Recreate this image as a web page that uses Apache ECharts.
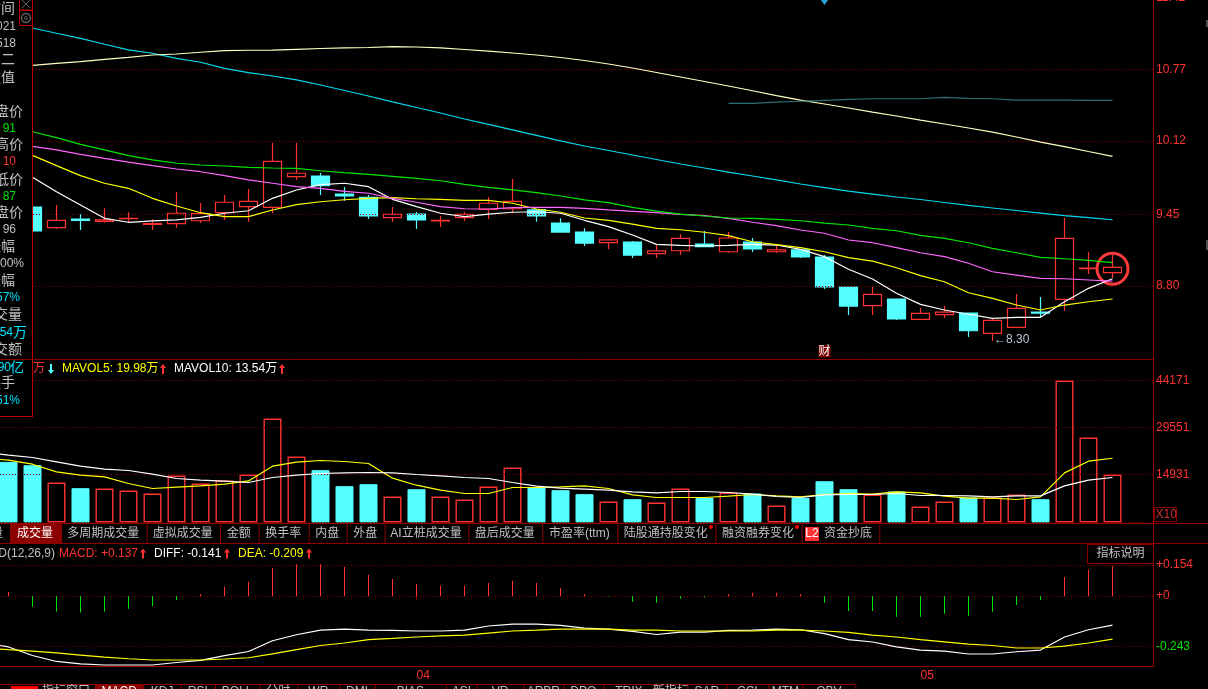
<!DOCTYPE html>
<html>
<head>
<meta charset="utf-8">
<style>html,body{margin:0;padding:0;background:#000;overflow:hidden}#c{width:1208px;height:689px}</style>
<script src="https://cdn.jsdelivr.net/npm/echarts@6/dist/echarts.min.js"></script>
</head>
<body>
<div id="c"></div>
<script>
const categories = ['','','','','','','','','','','','','','','','','','','04','','','','','','','','','','','','','','','','','','','','','05','','','','','','','','',''];

// [open, close, low, high]
const candles = [
[9.70,9.60,9.55,9.75],[9.60,9.52,9.50,9.63],[9.519,9.301,9.301,9.519],[9.331,9.398,9.319,9.537],[9.410,9.398,9.310,9.452],
[9.389,9.401,9.376,9.507],[9.413,9.416,9.376,9.471],[9.360,9.367,9.310,9.407],[9.367,9.462,9.328,9.655],[9.394,9.458,9.373,9.555],
[9.467,9.562,9.401,9.628],[9.522,9.571,9.385,9.683],[9.516,9.935,9.462,10.101],[9.795,9.826,9.765,10.101],[9.801,9.713,9.628,9.828],
[9.637,9.619,9.576,9.701],[9.607,9.437,9.410,9.628],[9.422,9.452,9.382,9.519],[9.455,9.401,9.319,9.473],[9.393,9.398,9.337,9.437],
[9.422,9.452,9.391,9.473],[9.498,9.553,9.410,9.610],[9.503,9.571,9.462,9.774],[9.492,9.437,9.385,9.501],[9.373,9.291,9.291,9.416],
[9.291,9.191,9.164,9.325],[9.194,9.219,9.137,9.228],[9.200,9.082,9.055,9.210],[9.094,9.119,9.055,9.173],[9.121,9.234,9.082,9.273],
[9.182,9.158,9.155,9.300],[9.112,9.237,9.100,9.291],[9.200,9.137,9.109,9.237],[9.112,9.128,9.100,9.173],[9.128,9.064,9.055,9.137],
[9.064,8.791,8.773,9.082],[8.791,8.618,8.536,8.791],[8.621,8.724,8.536,8.791],[8.682,8.500,8.491,8.682],[8.497,8.552,8.491,8.600],
[8.539,8.563,8.509,8.618],[8.554,8.393,8.336,8.554],[8.370,8.488,8.30,8.506],[8.424,8.597,8.420,8.727],[8.563,8.554,8.515,8.700],
[8.679,9.234,8.572,9.419],[8.958,8.964,8.909,9.109],[8.921,8.970,8.873,9.109],'-'
];
const ma5 = [null,null,9.789,9.658,9.537,9.416,9.380,9.392,9.401,9.425,9.462,9.485,9.598,9.674,9.722,9.735,9.704,9.589,9.522,9.462,9.431,9.455,9.471,9.476,9.462,9.398,9.340,9.264,9.179,9.170,9.164,9.170,9.179,9.173,9.134,9.067,8.952,8.864,8.734,8.633,8.582,8.543,8.506,8.515,8.515,8.657,8.779,8.866];
const ma10 = [null,null,9.989,9.895,9.804,9.735,9.689,9.598,9.528,9.467,9.431,9.431,9.492,9.540,9.567,9.585,9.598,9.604,9.594,9.589,9.580,9.580,9.553,9.501,9.471,9.419,9.398,9.364,9.325,9.312,9.289,9.258,9.203,9.176,9.149,9.112,9.058,9.027,8.966,8.894,8.839,8.739,8.688,8.627,8.582,8.627,8.657,8.682];
const ma20 = [null,null,10.071,10.038,9.998,9.962,9.928,9.895,9.865,9.840,9.804,9.765,9.735,9.704,9.689,9.662,9.644,9.598,9.562,9.522,9.503,9.501,9.513,9.516,9.516,9.507,9.492,9.480,9.467,9.452,9.440,9.416,9.380,9.349,9.310,9.280,9.219,9.194,9.149,9.103,9.067,9.007,8.930,8.900,8.870,8.866,8.855,8.845];
const ma30 = [null,null,10.204,10.150,10.089,10.038,9.986,9.947,9.917,9.901,9.892,9.880,9.874,9.871,9.849,9.831,9.816,9.798,9.780,9.758,9.725,9.698,9.674,9.649,9.619,9.583,9.558,9.516,9.482,9.455,9.437,9.419,9.416,9.407,9.394,9.373,9.355,9.325,9.303,9.261,9.234,9.194,9.143,9.103,9.061,9.048,9.034,9.012];
const ma60 = [null,null,11.148,11.100,11.054,11.000,10.948,10.918,10.872,10.836,10.781,10.741,10.711,10.675,10.629,10.579,10.529,10.475,10.424,10.374,10.320,10.270,10.220,10.170,10.120,10.074,10.033,9.992,9.951,9.910,9.874,9.837,9.801,9.765,9.728,9.696,9.664,9.637,9.610,9.587,9.560,9.533,9.510,9.487,9.464,9.441,9.423,9.403];
const ma120 = [null,null,10.808,10.826,10.841,10.863,10.881,10.902,10.911,10.927,10.941,10.945,10.947,10.954,10.961,10.966,10.970,10.979,10.975,10.966,10.952,10.938,10.920,10.902,10.879,10.852,10.820,10.784,10.743,10.702,10.661,10.620,10.577,10.533,10.492,10.456,10.420,10.383,10.347,10.310,10.274,10.238,10.201,10.156,10.110,10.069,10.024,9.980];
const ma250 = [null,null,null,null,null,null,null,null,null,null,null,null,null,null,null,null,null,null,null,null,null,null,null,null,null,null,null,null,null,null,null,10.462,10.462,10.474,10.481,10.490,10.499,10.504,10.504,10.504,10.517,10.508,10.504,10.492,10.492,10.492,10.490,10.490];

const volumes = [20000,18850,17824,12442,10670,10576,9954,9021,14620,12131,13065,14931,32350,20530,16268,11291,11913,8088,10358,8088,7154,11198,17108,10887,10047,8803,6532,7248,6221,10576,7652,9332,9021,5288,7652,12847,10358,8710,9643,4977,6532,7777,7777,8710,7248,44171,26440,14931];
const mavol5 = [20000,19380,18135,15740,14713,14184,12131,10576,10980,11385,11913,12940,17513,18757,19286,18975,18353,13780,11602,10047,9021,9021,10887,10887,11074,11385,10576,8585,7777,7777,7777,8181,8710,8274,7963,8710,9021,8803,9518,9207,8181,7559,7559,7154,7963,15429,19068,19980];
const mavol10 = [21870,20934,20219,18850,17513,16580,16175,15024,13687,13158,12847,12442,13998,14713,15242,15429,15553,15429,14931,14496,13998,13687,12442,11291,10670,10358,10047,9518,9207,9643,9643,9332,8803,8088,7777,8585,8710,8710,9021,8399,8399,8274,7963,8274,8274,11385,13158,14000];

const macdBars = [0,.021,-.051,-.074,-.079,-.074,-.061,-.047,-.018,.011,.045,.069,.136,.154,.154,.141,.103,.083,.059,.050,.050,.064,.074,.064,.040,.011,-.003,-.027,-.032,-.013,-.005,.011,.016,.016,.011,-.032,-.071,-.071,-.099,-.099,-.085,-.095,-.075,-.042,-.018,.093,.127,.146];
const diff = [-.225,-.245,-.286,-.315,-.327,-.332,-.332,-.332,-.320,-.310,-.287,-.267,-.215,-.186,-.164,-.159,-.164,-.165,-.168,-.168,-.164,-.144,-.135,-.135,-.141,-.154,-.159,-.170,-.185,-.173,-.173,-.165,-.164,-.159,-.162,-.181,-.210,-.221,-.245,-.260,-.265,-.279,-.279,-.268,-.260,-.197,-.162,-.140];
const dea = [-.25,-.258,-.265,-.274,-.284,-.294,-.302,-.308,-.308,-.308,-.303,-.297,-.278,-.258,-.238,-.226,-.210,-.204,-.197,-.192,-.188,-.178,-.168,-.164,-.159,-.159,-.159,-.164,-.164,-.168,-.168,-.168,-.168,-.164,-.164,-.168,-.175,-.188,-.197,-.210,-.220,-.231,-.238,-.250,-.250,-.241,-.226,-.207];

const priceTicks = [8.80,9.45,10.12,10.77,11.42];
const volumeTicks = [14931,29551,44171];
const macdTicks = [-0.243,0,0.154];

const tabs = ['成交量','多周期成交量','虚拟成交量','金额','换手率','内盘','外盘','AI立桩成交量','盘后成交量','市盈率(ttm)','陆股通持股变化','融资融券变化'];
const tabEdges = [10,61,146.7,220,258.7,308.7,346.7,384.7,468.3,542.3,617.3,715.3,801.7,879.3];
const bottomTabs = ['MACD','KDJ','RSI','BOLL','分时','WR','DMI','BIAS','ASI','VR','ARBR','DPO','TRIX','新指标','SAR','CCI','MTM','OBV'];
const bottomEdges = [95,143.3,180.7,215,259.3,297.3,339.3,374.7,446,476.7,523.3,563.3,603.3,654.3,687.3,726.3,768.3,802.3,855.3];
const GRAY = '#c0c0c0', BLUE = '#00e5ff';
const panelRows = [
 ['时间',15,9,GRAY,14],['2021',16,27,GRAY,12],['1518',16,44,GRAY,12],['周二',15,60,GRAY,14],['数值',15,78,GRAY,14],
 ['开盘价',23,112,GRAY,14],['91',16,129,'#00e600',12],['最高价',23,145,GRAY,14],['10',16,162,'#ff3232',12],['最低价',23,180,GRAY,14],
 ['87',16,197,'#00e600',12],['收盘价',23,213,GRAY,14],['96',16,230,GRAY,12],['涨幅',15,247,GRAY,14],['00%',24,264,GRAY,12],
 ['振幅',15,281,GRAY,14],['2.57%',20,298,BLUE,12],['成交量',22,315,GRAY,14],['54',13,333,BLUE,12],['万',27,333,BLUE,14],['成交额',22,350,GRAY,14],
 ['90',11,368,BLUE,12],['亿',24,368,BLUE,14],['换手',15,383,GRAY,14],['0.51%',20,401,BLUE,12]
];

const FONT = '"Liberation Sans","Noto Sans CJK SC",sans-serif';
const RED = '#ff3232', CYAN = '#55ffff', GREEN = '#00e600', YEL = '#ffff00', DOT = '#8a0000', EDGE = '#8c0000';
const LEFT = -27.5, DATAW = 1176;

const line = (name, data, color, xi, width) => ({
  name, type:'line', data, xAxisIndex:xi, yAxisIndex:xi, showSymbol:false, symbol:'none',
  connectNulls:false, smooth:false, z:5, silent:true,
  lineStyle:{color, width:width||1.2}
});
const levels = (xi, vals) => ({
  type:'line', xAxisIndex:xi, yAxisIndex:xi, data:[[0.5, vals[0]]], symbol:'none', showSymbol:false, lineStyle:{opacity:0}, silent:true, z:1,
  markLine:{silent:true, symbol:['none','none'], animation:false, label:{show:false},
    lineStyle:{type:[1,2], color:DOT, width:1}, data:vals.map(v=>({yAxis:v}))}
});

const txt = (text,x,y,fill,opt) => ({type:'text', z:100, silent:true,
  style:Object.assign({text,x,y,fill,font:'12px '+FONT,textAlign:'left',textVerticalAlign:'middle'},opt||{})});
const seg = (x1,y1,x2,y2,stroke,w) => ({type:'line', z:100, silent:true, shape:{x1,y1,x2,y2}, style:{stroke,lineWidth:w||1}});
const arrow = (cx,cy,up,fill) => { const s = up?1:-1; return {type:'polygon', z:100, silent:true, shape:{points:[
  [cx,cy-5*s],[cx+3,cy-1*s],[cx+1,cy-1*s],[cx+1,cy+5*s],[cx-1,cy+5*s],[cx-1,cy-1*s],[cx-3,cy-1*s]]}, style:{fill}}; };

const gfx = [];
// left info panel
gfx.push({type:'rect', z:99, silent:true, shape:{x:0,y:0,width:32.5,height:416}, style:{fill:'#000'}});
gfx.push(seg(32.5,0,32.5,416.5,'#c00000'), seg(0,416.5,33,416.5,'#c00000'));
panelRows.forEach(r=>gfx.push(txt(r[0],r[1],r[2],r[3],{textAlign:'right',font:r[4]+'px '+FONT})));
// panel icons
gfx.push({type:'rect', z:100, silent:true, shape:{x:19.5,y:-1,width:13,height:11}, style:{fill:'#000',stroke:'#c00000'}});
gfx.push({type:'rect', z:100, silent:true, shape:{x:19.5,y:10.5,width:13,height:15}, style:{fill:'#000',stroke:'#c00000'}});
gfx.push(seg(22,0,30,8,'#606060'), seg(30,0,22,8,'#606060'));
gfx.push({type:'circle', z:100, silent:true, shape:{cx:26,cy:18,r:4.5}, style:{fill:'none',stroke:'#606060',lineWidth:1.5}});
gfx.push({type:'circle', z:100, silent:true, shape:{cx:26,cy:18,r:1.5}, style:{fill:'none',stroke:'#606060'}});
// frame
gfx.push(seg(0,359.5,1153,359.5,EDGE));
gfx.push(seg(1153.5,0,1153.5,667,EDGE));
gfx.push(seg(0,523.5,1208,523.5,EDGE), seg(0,543.5,1208,543.5,EDGE), seg(0,666.5,1153.5,666.5,EDGE));
gfx.push(seg(1207,20,1207,27,'#a0a0a0'), seg(1207,240,1207,250,'#a0a0a0'));
// volume legend
gfx.push(txt('万',33,369,RED), arrow(51,369,false,CYAN));
gfx.push(txt('MAVOL5: 19.98万',62,369,YEL), arrow(163,369,true,RED));
gfx.push(txt('MAVOL10: 13.54万',174,369,'#ffffff'), arrow(282,369,true,RED));
// tab bar
gfx.push({type:'rect', z:99, silent:true, shape:{x:10,y:524,width:51,height:19}, style:{fill:'#8c0000'}});
gfx.push(txt('量',3,534,GRAY,{textAlign:'right'}));
tabEdges.forEach(x=>gfx.push(seg(x+0.5,524,x+0.5,543,EDGE)));
tabs.forEach((t,i)=>gfx.push(txt(t,(tabEdges[i]+tabEdges[i+1])/2-0.5,534,i===0?'#ffffff':GRAY,{textAlign:'center'})));
gfx.push({type:'rect', z:100, silent:true, shape:{x:805,y:527,width:14,height:14}, style:{fill:'#ff3232'}});
gfx.push(txt('L2',812,534,'#ffffff',{textAlign:'center'}), txt('资金抄底',824,534,GRAY));
gfx.push({type:'circle', z:100, silent:true, shape:{cx:711,cy:527,r:2}, style:{fill:'#ff0000'}});
gfx.push({type:'circle', z:100, silent:true, shape:{cx:797,cy:527,r:2}, style:{fill:'#ff0000'}});
// X10 box
gfx.push({type:'rect', z:100, silent:true, shape:{x:1154.5,y:507.5,width:22,height:14}, style:{fill:'#000',stroke:EDGE}});
gfx.push(txt('X10',1155.5,515,'#d03030'));
// MACD legend
gfx.push(txt('MACD(12,26,9)',55,553.5,GRAY,{textAlign:'right'}));
gfx.push(txt('MACD: +0.137',59,553.5,RED), arrow(143,553.5,true,RED));
gfx.push(txt('DIFF: -0.141',154,553.5,'#ffffff'), arrow(227,553.5,true,RED));
gfx.push(txt('DEA: -0.209',238,553.5,YEL), arrow(309,553.5,true,RED));
// indicator button
gfx.push({type:'rect', z:100, silent:true, shape:{x:1087.5,y:544.5,width:66,height:19}, style:{fill:'#000',stroke:EDGE}});
gfx.push(txt('指标说明',1120.5,554,GRAY,{textAlign:'center'}));
// bottom tabs
gfx.push(seg(0,684.5,855,684.5,EDGE));
gfx.push({type:'rect', z:100, silent:true, shape:{x:11,y:686,width:27,height:5}, style:{fill:'#ff0000'}});
gfx.push(txt('指标窗口',42,692,GRAY));
gfx.push({type:'rect', z:99, silent:true, shape:{x:95,y:685,width:48,height:6}, style:{fill:'#8c0000'}});
bottomEdges.forEach(x=>gfx.push(seg(x+0.5,685,x+0.5,689,EDGE)));
bottomTabs.forEach((t,i)=>gfx.push(txt(t,(bottomEdges[i]+bottomEdges[i+1])/2,692,i===0?'#ffffff':GRAY,{textAlign:'center'})));

const hiddenX = (gi) => ({type:'category', gridIndex:gi, data:categories, show:false, boundaryGap:true});
const hiddenY = (gi,min,max) => ({type:'value', gridIndex:gi, min, max, show:false, scale:true, splitLine:{show:false}});
const PMIN = 8.136, PMAX = 11.4934, VMAX = 50547, MMIN = -0.3383, MMAX = 0.2517;
const frameX = gi => ({type:'value', gridIndex:gi, min:0, max:1, show:false, splitLine:{show:false}});
const frameY = (gi,min,max,ticks,fmt,col,pad) => ({type:'value', gridIndex:gi, min, max, position:'right',
  axisLine:{show:false}, axisTick:{show:false}, splitLine:{show:false},
  axisLabel:{show:true, customValues:ticks, formatter:fmt, color:col, margin:3, padding:[pad,0,0,0], fontFamily:FONT, fontSize:12, showMinLabel:true, showMaxLabel:true}});

const option = {
  backgroundColor:'#000', animation:false,
  graphic:{elements:gfx},
  grid:[
    {left:LEFT, width:DATAW, top:-10, height:369, outerBoundsMode:'none'},
    {left:LEFT, width:DATAW, top:360, height:162.5, outerBoundsMode:'none'},
    {left:LEFT, width:DATAW, top:544, height:122.3, outerBoundsMode:'none'},
    {left:0, width:1153, top:-10, height:369, outerBoundsMode:'none'},
    {left:0, width:1153, top:360, height:162.5, outerBoundsMode:'none'},
    {left:0, width:1153, top:544, height:122.3, outerBoundsMode:'none'}
  ],
  xAxis:[
    hiddenX(0), hiddenX(1),
    {type:'category', gridIndex:2, data:categories, boundaryGap:true,
      axisLine:{show:false},
      axisTick:{show:true, alignWithLabel:true, length:4, interval:(i,v)=>v!=='', lineStyle:{color:EDGE}},
      axisLabel:{show:true, interval:(i,v)=>v!=='', color:RED, fontSize:12, fontFamily:FONT, margin:3, align:'left'}},
    frameX(3), frameX(4), frameX(5)
  ],
  yAxis:[
    hiddenY(0,PMIN,PMAX), hiddenY(1,0,VMAX), hiddenY(2,MMIN,MMAX),
    frameY(3,PMIN,PMAX,priceTicks,v=>v.toFixed(2),RED,3),
    frameY(4,0,VMAX,volumeTicks,v=>String(v),RED,1),
    frameY(5,MMIN,MMAX,macdTicks,v=>v>0?'+'+v.toFixed(3):(v===0?'+0':v.toFixed(3)),v=>v<0?'#00e600':RED,1)
  ],
  series:[
    levels(3,priceTicks), levels(4,[0].concat(volumeTicks)), levels(5,macdTicks),
    {name:'K', type:'candlestick', xAxisIndex:0, yAxisIndex:0, data:candles, barWidth:18, z:3, silent:true,
      itemStyle:{color:'transparent', color0:CYAN, borderColor:RED, borderColor0:CYAN, borderWidth:1.2},
      markPoint:{silent:true, animation:false, data:[
        {coord:[47,8.957], symbol:'circle', symbolSize:31, itemStyle:{color:'transparent',borderColor:'#ff3b3b',borderWidth:3}, label:{show:false}},
        {coord:[35,11.42], symbol:'diamond', symbolSize:[10,14], itemStyle:{color:'#2b9fd8'}, label:{show:false}},
        {coord:[42,8.30], symbol:'circle', symbolSize:1, itemStyle:{color:'transparent'},
          label:{show:true, position:'right', distance:0, offset:[1,-1], formatter:'←8.30', color:'#b8c8d8', fontSize:12, fontFamily:FONT}},
        {coord:[35,8.206], symbol:'circle', symbolSize:1, itemStyle:{color:'transparent'},
          label:{show:true, position:'inside', formatter:'财', color:'#ffffff', fontSize:12, backgroundColor:'#800000', padding:[0,0], fontFamily:FONT}}
      ]}},
    line('MA5',ma5,'#ffffff',0), line('MA10',ma10,YEL,0), line('MA20',ma20,'#ff66ff',0), line('MA30',ma30,'#00e600',0),
    line('MA60',ma60,'#00d8f0',0), line('MA120',ma120,'#ffffc0',0), line('MA250',ma250,'#2f6f6f',0),
    {name:'VOL', type:'bar', xAxisIndex:1, yAxisIndex:1, barWidth:18, z:3, silent:true,
      data:volumes.map((v,i)=>{
        const c = candles[i];
        return {value:v, itemStyle: c[1]>=c[0]
          ? {color:'transparent',borderColor:RED,borderWidth:1.4}
          : {color:CYAN,borderColor:CYAN,borderWidth:1}};
      })},
    line('MAVOL5',mavol5,YEL,1), line('MAVOL10',mavol10,'#ffffff',1),
    {name:'MACD', type:'bar', xAxisIndex:2, yAxisIndex:2, barWidth:1, z:3, silent:true,
      data:macdBars.map(v=>({value:v, itemStyle:{color:v>=0?RED:GREEN}}))},
    line('DIFF',diff,'#ffffff',2), line('DEA',dea,YEL,2)
  ]
};
const chart = echarts.init(document.getElementById('c'),null,{renderer:'canvas',width:1208,height:689});
chart.setOption(option);
</script>
</body>
</html>
